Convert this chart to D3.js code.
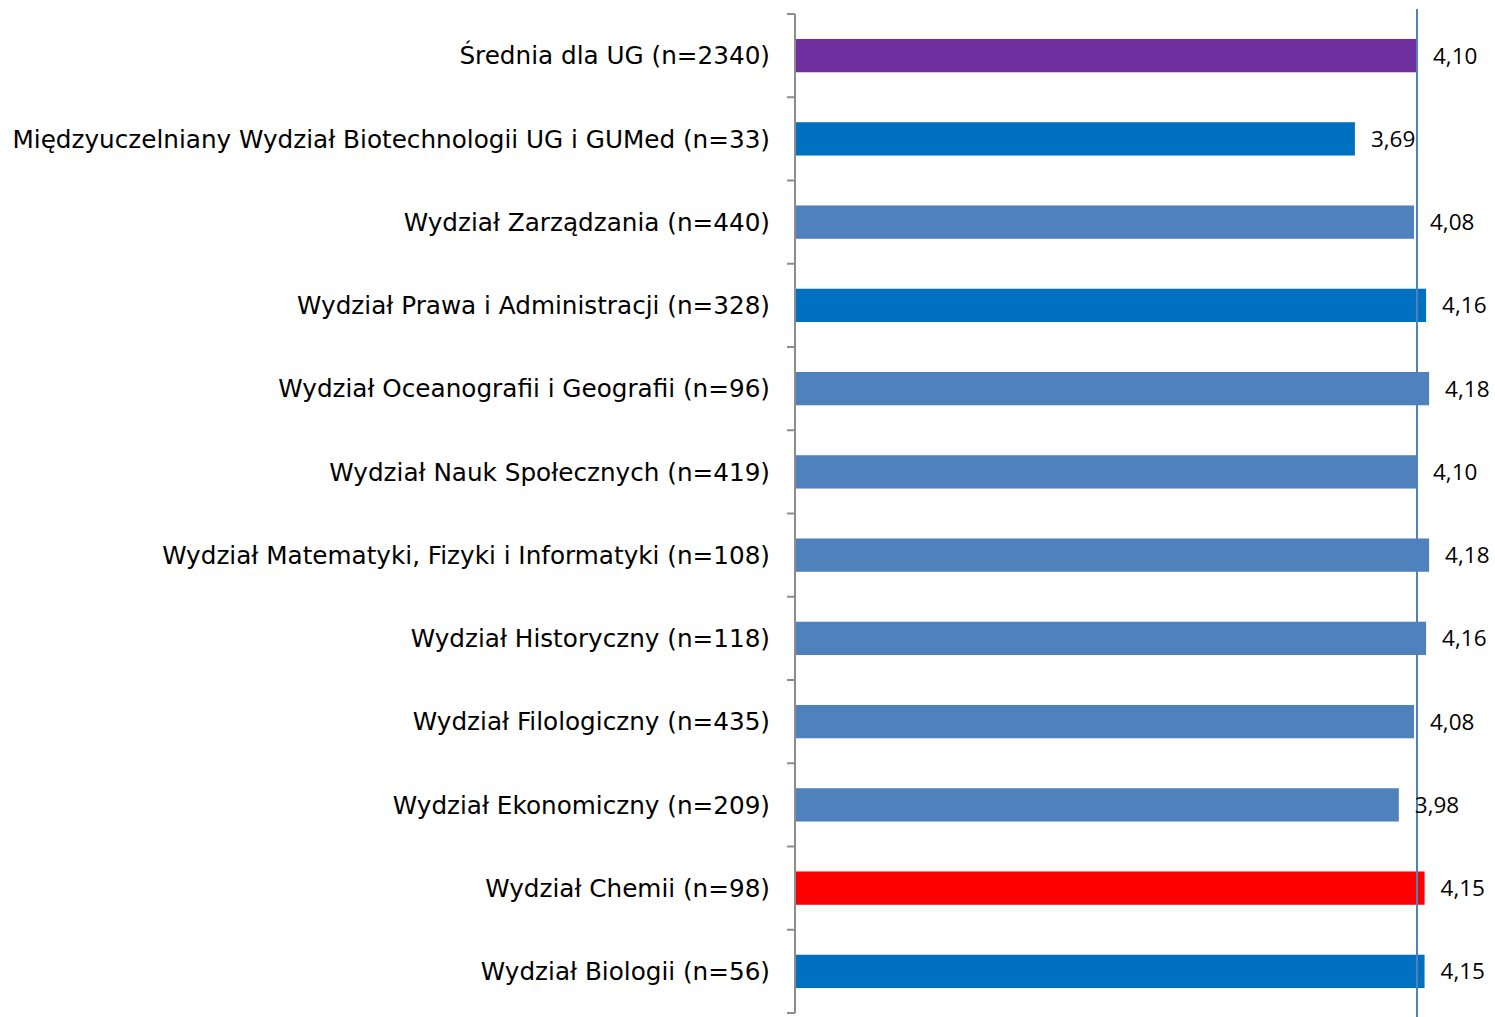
<!DOCTYPE html>
<html>
<head>
<meta charset="utf-8">
<script src="https://cdn.jsdelivr.net/npm/d3@7"></script>
<style>
  body { margin: 0; background: #fff; }
  .cat { font-family: "DejaVu Sans", sans-serif; font-size: 24.7px; fill: #000; }
  .val { font-family: "Open Sans", sans-serif; font-size: 22.5px; fill: #000; }
</style>
</head>
<body>
<svg id="viewport" width="1495" height="1017"></svg>
<script>
var categories = [
  "Średnia dla UG (n=2340)",
  "Międzyuczelniany Wydział Biotechnologii UG i GUMed (n=33)",
  "Wydział Zarządzania (n=440)",
  "Wydział Prawa i Administracji (n=328)",
  "Wydział Oceanografii i Geografii (n=96)",
  "Wydział Nauk Społecznych (n=419)",
  "Wydział Matematyki, Fizyki i Informatyki (n=108)",
  "Wydział Historyczny (n=118)",
  "Wydział Filologiczny (n=435)",
  "Wydział Ekonomiczny (n=209)",
  "Wydział Chemii (n=98)",
  "Wydział Biologii (n=56)"
];
var values = [4.10, 3.69, 4.08, 4.16, 4.18, 4.10, 4.18, 4.16, 4.08, 3.98, 4.15, 4.15];
var kinds = ["avg", "dark", "light", "dark", "light", "light", "light", "light", "light", "light", "red", "dark"];
var average = 4.10;

var svg = d3.select("#viewport");
var axisX = 795;

var x = d3.scaleLinear().domain([0, average]).range([axisX + 1, 1417]);
var y = d3.scaleBand().domain(categories).range([14, 1013]).paddingInner(0.6).paddingOuter(0.3);
var color = d3.scaleOrdinal()
  .domain(["avg", "dark", "light", "red"])
  .range(["#7030A0", "#0070C0", "#4F81BD", "#FF0000"]);

// bars
svg.selectAll("rect.bar")
  .data(values)
  .enter().append("rect")
  .attr("class", "bar")
  .attr("x", x(0))
  .attr("y", function(d, i) { return y(categories[i]); })
  .attr("width", function(d) { return x(d) - x(0); })
  .attr("height", y.bandwidth())
  .attr("fill", function(d, i) { return color(kinds[i]); });

// category axis line
svg.append("line")
  .attr("x1", axisX).attr("x2", axisX)
  .attr("y1", 14).attr("y2", 1013)
  .attr("stroke", "#8c8c8c").attr("stroke-width", 2);

// ticks between bands
var bounds = d3.range(categories.length + 1).map(function(i) { return 14 + i * (999 / categories.length); });
svg.selectAll("line.tick")
  .data(bounds)
  .enter().append("line")
  .attr("class", "tick")
  .attr("x1", axisX - 8).attr("x2", axisX)
  .attr("y1", function(d) { return d; }).attr("y2", function(d) { return d; })
  .attr("stroke", "#8c8c8c").attr("stroke-width", 2);

// category labels
svg.selectAll("text.cat")
  .data(categories)
  .enter().append("text")
  .attr("class", "cat")
  .attr("x", axisX - 25)
  .attr("y", function(d) { return y(d) + y.bandwidth() / 2; })
  .attr("dy", "0.35em")
  .attr("text-anchor", "end")
  .text(function(d) { return d; });

// average reference line
svg.append("line")
  .attr("x1", x(average)).attr("x2", x(average))
  .attr("y1", 9).attr("y2", 1017)
  .attr("stroke", "#4F81BD").attr("stroke-width", 2);

// value labels
svg.selectAll("text.val")
  .data(values)
  .enter().append("text")
  .attr("class", "val")
  .attr("x", function(d) { return x(d) + 16; })
  .attr("y", function(d, i) { return y(categories[i]) + y.bandwidth() / 2; })
  .attr("dy", "0.35em")
  .text(function(d) { return d.toFixed(2).replace(".", ","); });
</script>
</body>
</html>
